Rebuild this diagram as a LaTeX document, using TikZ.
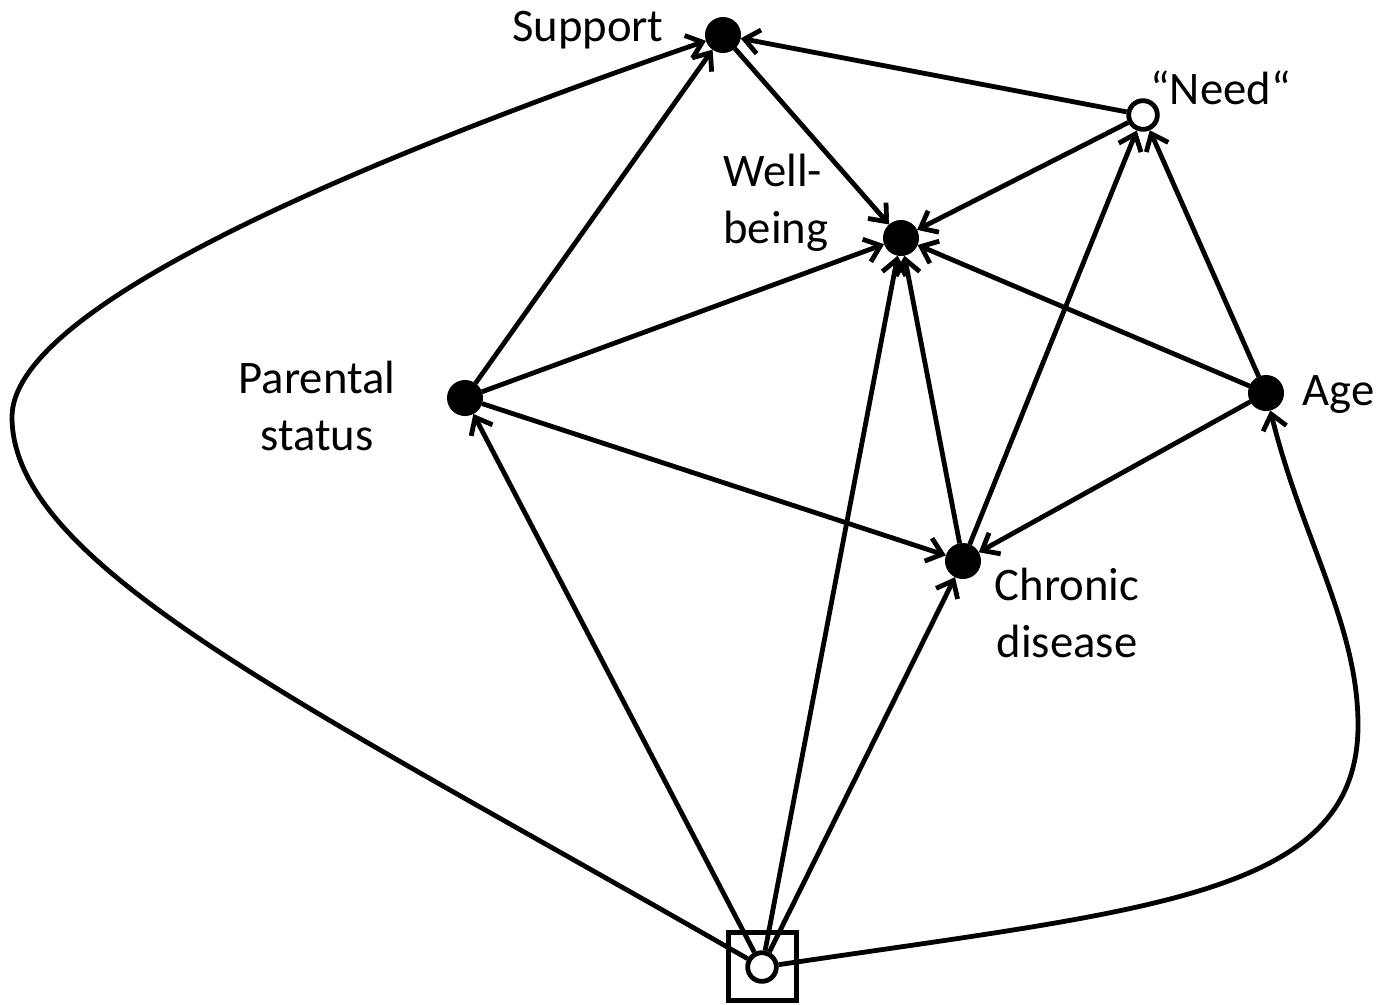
\documentclass[tikz,border=0pt]{standalone}
\usepackage{fontspec}
\setmainfont{Carlito}
\usetikzlibrary{arrows.meta}
\begin{document}
\begin{tikzpicture}[x=0.75pt,y=-0.75pt,line width=3.6pt,
  full/.style={circle,fill=black,draw=black,line width=1pt,minimum size=26pt,inner sep=0pt},
  hollow/.style={circle,fill=white,draw=black,line width=3.6pt,minimum size=21.5pt,inner sep=0pt},
  lab/.style={font=\fontsize{35}{43}\selectfont,inner sep=0pt},
  edge/.style={-{Straight Barb[length=11pt,width=18pt,line width=3.6pt]}}]
\useasboundingbox (0,0) rectangle (1377,1004);
\node[full] (sup) at (723,35) {};
\node[hollow] (need) at (1143,115) {};
\node[full] (wb) at (901,238) {};
\node[full] (par) at (465,398) {};
\node[full] (age) at (1266,393) {};
\node[full] (chr) at (963,561) {};
\node[draw,line width=3.6pt,minimum size=51pt,inner sep=0pt] (frame) at (762.5,966.5) {};
\node[hollow] (bot) at (762,967) {};

\node[lab,anchor=east] (tsup) at (666,30) {Support};
\node[lab,anchor=west] (tneed) at (1148,88) {“Need“};
\node[lab,anchor=west,align=left] (twb) at (721,203) {Well-\\being};
\node[lab,align=center] (tpar) at (317,406) {Parental\\status};
\node[lab,anchor=west] (tage) at (1300,395) {Age};
\node[lab,align=center] (tchr) at (1067,613) {Chronic\\disease};

\draw[edge] (sup) -- (wb);
\draw[edge] (need) -- (sup);
\draw[edge] (need) -- (wb);
\draw[edge] (par) -- (sup);
\draw[edge] (par) -- (wb);
\draw[edge] (par) -- (chr);
\draw[edge] (age) -- (need);
\draw[edge] (age) -- (wb);
\draw[edge] (age) -- (chr);
\draw[edge] (chr) -- (need);
\draw[edge] (chr) -- (wb);
\draw[edge] (bot) -- (par);
\draw[edge] (bot) -- (wb);
\draw[edge] (bot) -- (chr);
\coordinate (lft) at (12,417);
\coordinate (rgt) at (1358,725);
\draw[edge] (bot.150) .. controls (312,708) and (12,567) .. (lft)
  .. controls (12,317) and (297,182) .. (sup);
\draw[edge] (bot.8) .. controls (1154,909) and (1358,895) .. (rgt)
  .. controls (1358,625) and (1302,539) .. (age);
\end{tikzpicture}
\end{document}
